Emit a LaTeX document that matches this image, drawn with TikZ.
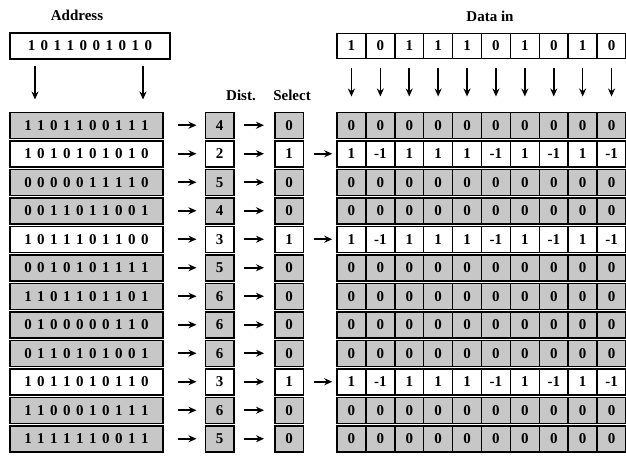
\documentclass[tikz,border=0pt]{standalone}
\usepackage{fontspec}
\setmainfont{Liberation Serif}
\usetikzlibrary{arrows.meta}
\newcommand\spread[1]{\expandafter\spreadi#1\relax}
\def\spreadi#1{\ifx#1\relax\else\makebox[13pt]{#1}\expandafter\spreadi\fi}
\def\addrbits{1011001010}
\begin{document}
\begin{tikzpicture}[x=1pt,y=-1pt,
  box/.style={draw,line width=1.5pt,inner sep=0pt,minimum height=26pt,
    font=\fontsize{15}{15}\selectfont\bfseries},
  lbox/.style={box,minimum width=153pt},
  sbox/.style={box,minimum width=28.5pt},
  cell/.style={box,minimum width=28.9pt},
  fill0/.style={fill=black!22},
  fill1/.style={fill=white},
  arr/.style={-{Stealth[length=8pt,width=7pt]},line width=1.6pt},
  lab/.style={font=\fontsize{15}{15}\selectfont\bfseries}]
\useasboundingbox (0,0) rectangle (626,458);
% labels
\node[lab] (addrlab) at (77,15) {Address};
\node[lab] (datalab) at (490,16) {Data in};
\node[lab] (distlab) at (241,95) {Dist.};
\node[lab] (sellab) at (292,95) {Select};
% address box
\node[box,minimum width=160pt] (addr) at (90,46) {\spread\addrbits};
% data in boxes
\foreach \j/\b in {1/1,2/0,3/1,4/1,5/1,6/0,7/1,8/0,9/1,10/0}{
  \node[cell,minimum height=25pt] (din\j) at ({337+14.45+28.9*(\j-1)},46) {\b};
}
% rows
\foreach \i/\bits/\d/\s in {0/1101100111/4/0,1/1010101010/2/1,2/0000011110/5/0,
  3/0011011001/4/0,4/1011101100/3/1,5/0010101111/5/0,6/1101101101/6/0,
  7/0100000110/6/0,8/0110101001/6/0,9/1011010110/3/1,10/1100010111/6/0,
  11/1111110011/5/0}{
  \node[lbox,fill\s] (r\i) at (86.5,{125.25+28.5*\i}) {\spread\bits};
  \node[sbox,fill\s] (d\i) at (219.5,{125.25+28.5*\i}) {\d};
  \node[sbox,fill\s] (s\i) at (289,{125.25+28.5*\i}) {\s};
  \draw[arr,shorten <=14pt,shorten >=8pt] (r\i) -- (d\i);
  \draw[arr,shorten <=9pt,shorten >=10pt] (d\i) -- (s\i);
  \foreach \j/\v in {1/1,2/-1,3/1,4/1,5/1,6/-1,7/1,8/-1,9/1,10/-1}{
    \node[cell,fill\s] (g\i-\j) at ({337+14.45+28.9*(\j-1)},{125.25+28.5*\i})
      {\ifnum\s=1 \v\else 0\fi};
  }
  \ifnum\s=1
    \draw[arr,shorten <=10pt,shorten >=4pt] (s\i) -- (g\i-1);
  \fi
}
% address arrows
\coordinate (p1) at (35,0);
\coordinate (p2) at (143,0);
\draw[arr,shorten <=6pt,shorten >=12pt] (addr.south -| p1) -- (r0.north -| p1);
\draw[arr,shorten <=6pt,shorten >=12pt] (addr.south -| p2) -- (r0.north -| p2);
% data in arrows
\foreach \j in {1,...,10}{
  \draw[arr,shorten <=8.5pt,shorten >=15pt] (din\j) -- (g0-\j);
}
\end{tikzpicture}
\end{document}
